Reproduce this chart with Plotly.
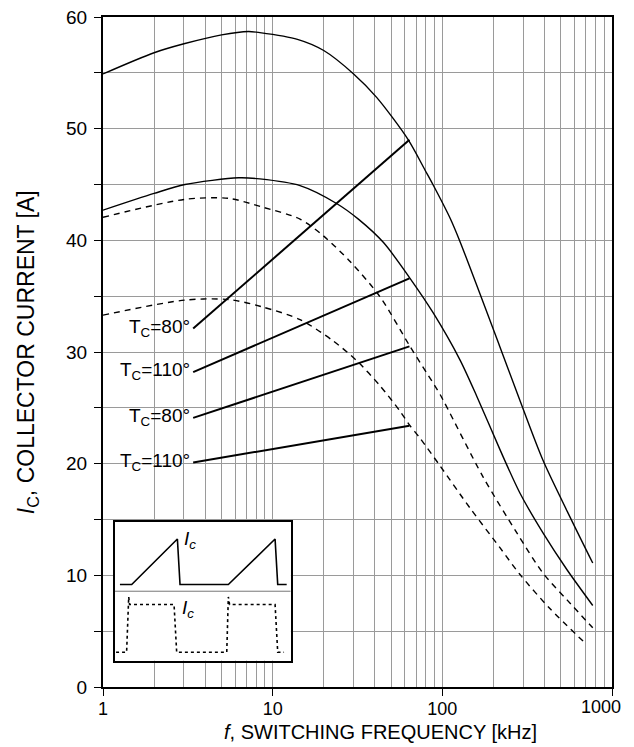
import plotly.graph_objects as go
import numpy as np

# ---- data ----
fA = [1, 2, 3, 5, 7.2, 8.4, 14, 20, 30, 41, 63, 79, 88, 111, 127, 218, 286, 392, 588, 770]
iA = [54.9, 56.8, 57.6, 58.4, 58.7, 58.6, 58.0, 57.0, 54.9, 52.8, 49.0, 46.3, 45.0, 42.0, 39.9, 30.5, 25.7, 20.3, 14.7, 11.1]

fB = [1, 2, 3.04, 6.3, 8.4, 14.5, 23.8, 32, 45, 64.5, 88.4, 127, 160, 218, 286, 392, 543, 770]
iB = [42.7, 44.2, 45.0, 45.6, 45.5, 44.9, 43.3, 41.9, 39.8, 36.6, 33.5, 29.3, 26.0, 21.3, 17.4, 13.8, 10.5, 7.3]

fC = [1, 3.04, 5.5, 8.6, 14.5, 19.9, 28.6, 42.9, 64.5, 88.4, 97, 174, 275, 392, 543, 770]
iC = [42.06, 43.67, 43.76, 43.0, 41.9, 40.4, 38.1, 34.95, 30.5, 27.2, 26.2, 18.8, 13.8, 10.2, 7.8, 5.3]

fD = [1, 3.04, 5.5, 8.6, 14.5, 22.7, 31.4, 42.8, 56.3, 64.5, 73.7, 97, 146, 218, 286, 432, 709]
iD = [33.3, 34.65, 34.7, 34.06, 32.9, 31.0, 29.2, 27.0, 24.7, 23.4, 22.3, 19.8, 16.0, 12.5, 10.1, 7.0, 3.8]

leader_f_start = 3.4
leader_f_end = 64
leader_i_start = [32.1, 28.2, 24.1, 20.1]
leader_i_end = [49.0, 36.6, 30.5, 23.4]
leader_labels = ["T<sub>C</sub>=80°", "T<sub>C</sub>=110°", "T<sub>C</sub>=80°", "T<sub>C</sub>=110°"]

x_tickvals = [1, 10, 100, 1000]
x_ticktext = ["1", "10", "100", ""]
x_last_label = "1000"   # drawn as annotation so it can sit inside the page
x_minor = [m * d for d in (1, 10, 100) for m in range(2, 10)]
y_tickvals = [0, 10, 20, 30, 40, 50, 60]
y_minor_step = 5

# inset waveforms (normalised time / amplitude)
saw_t = [0.028, 0.095, 0.355, 0.370, 0.645, 0.911, 0.926, 0.977]
saw_y = [0.548, 0.548, 0.877, 0.548, 0.548, 0.877, 0.548, 0.548]
pulse_t = [0.006, 0.066, 0.078, 0.083, 0.336, 0.351, 0.636, 0.645, 0.652, 0.911, 0.926, 0.962]
pulse_y = [0.06, 0.06, 0.459, 0.404, 0.404, 0.06, 0.06, 0.459, 0.404, 0.404, 0.06, 0.06]

FONT = "Liberation Sans, Arial, sans-serif"
GRID = "#9a9a9a"

fig = go.Figure()
for f, i, dash in [(fA, iA, "solid"), (fB, iB, "solid"), (fC, iC, "6px,5px"), (fD, iD, "6px,5px")]:
    fig.add_trace(go.Scatter(x=f, y=i, mode="lines",
                             line=dict(color="black", width=1.4, dash=dash, shape="spline", smoothing=0.8),
                             showlegend=False, hoverinfo="skip"))
for s, e in zip(leader_i_start, leader_i_end):
    fig.add_trace(go.Scatter(x=[leader_f_start, leader_f_end], y=[s, e], mode="lines",
                             line=dict(color="black", width=2), showlegend=False, hoverinfo="skip"))

fig.add_trace(go.Scatter(x=saw_t, y=saw_y, mode="lines", line=dict(color="black", width=1.6),
                         xaxis="x2", yaxis="y2", showlegend=False, hoverinfo="skip"))
fig.add_trace(go.Scatter(x=pulse_t, y=pulse_y, mode="lines", line=dict(color="black", width=1.6, dash="dot"),
                         xaxis="x2", yaxis="y2", showlegend=False, hoverinfo="skip"))

annotations = []
for s, lab in zip(leader_i_start, leader_labels):
    annotations.append(dict(x=np.log10(leader_f_start), y=s, xref="x", yref="y", text=lab, showarrow=False,
                            xanchor="right", yanchor="middle", xshift=-1, yshift=1,
                            font=dict(family=FONT, size=19, color="black")))
annotations.append(dict(x=0.427, y=0.872, xref="x2", yref="y2", text="<i>I</i><sub><i>c</i></sub>", showarrow=False,
                        font=dict(family=FONT, size=19, color="black")))
annotations.append(dict(x=0.417, y=0.375, xref="x2", yref="y2", text="<i>I</i><sub><i>c</i></sub>", showarrow=False,
                        font=dict(family=FONT, size=19, color="black")))
annotations.append(dict(x=np.log10(x_tickvals[-1]), y=0, xref="x", yref="paper", text=x_last_label, showarrow=False,
                        xanchor="center", yanchor="middle", xshift=-11, yshift=-19.5,
                        font=dict(family=FONT, size=18, color="black")))
annotations.append(dict(x=0.546, y=-0.067, xref="paper", yref="paper", text="<i>f</i>, SWITCHING FREQUENCY [kHz]",
                        showarrow=False, xanchor="center", yanchor="middle",
                        font=dict(family=FONT, size=20, color="black")))
annotations.append(dict(x=-0.149, y=0.5, xref="paper", yref="paper", text="<i>I</i><sub>C</sub>, COLLECTOR CURRENT [A]",
                        showarrow=False, textangle=-90, xanchor="center", yanchor="middle",
                        font=dict(family=FONT, size=23, color="black")))

fig.update_layout(
    width=626, height=739,
    margin=dict(l=95, r=22, t=9, b=60, autoexpand=False),
    paper_bgcolor="white", plot_bgcolor="white",
    font=dict(family=FONT, size=18, color="black"),
    xaxis=dict(type="log", range=[0, 3], tickmode="array", tickvals=x_tickvals, ticktext=x_ticktext,
               showgrid=True, gridcolor=GRID, gridwidth=1.4,
               minor=dict(tickmode="array", tickvals=x_minor, showgrid=True, gridcolor=GRID, gridwidth=1.4, ticks=""),
               ticks="outside", ticklen=7, tickcolor="black", showline=True, linecolor="black", linewidth=2,
               mirror=True, zeroline=False, tickfont=dict(size=18), automargin=False,
               ticklabeloverflow="allow", ticklabelstandoff=-3),
    yaxis=dict(range=[0, 60], tickmode="array", tickvals=y_tickvals,
               showgrid=True, gridcolor=GRID, gridwidth=1.4,
               minor=dict(dtick=y_minor_step, showgrid=True, gridcolor=GRID, gridwidth=1.4,
                          ticks="outside", ticklen=7, tickcolor="black"),
               ticks="outside", ticklen=7, tickcolor="black", showline=True, linecolor="black", linewidth=2,
               mirror=True, zeroline=False, tickfont=dict(size=19), automargin=False,
               ticklabeloverflow="allow", ticklabelstandoff=3),
    xaxis2=dict(domain=[0.0236, 0.3688], range=[0, 1], anchor="y2", showgrid=False, zeroline=False,
                showticklabels=False, ticks="", showline=True, linecolor="black", linewidth=1.5, mirror=True),
    yaxis2=dict(domain=[0.0395, 0.2464], range=[0, 1], anchor="x2", showgrid=False, zeroline=False,
                showticklabels=False, ticks="", showline=True, linecolor="black", linewidth=1.5, mirror=True),
    shapes=[
        dict(type="rect", xref="x2", yref="y2", x0=0, x1=1, y0=0, y1=1, fillcolor="white",
             line=dict(width=0), layer="below"),
        dict(type="line", xref="x2", yref="y2", x0=0, x1=1, y0=0.5, y1=0.5, line=dict(color="#777", width=1)),
    ],
    annotations=annotations,
)

fig.write_html("out.html")
